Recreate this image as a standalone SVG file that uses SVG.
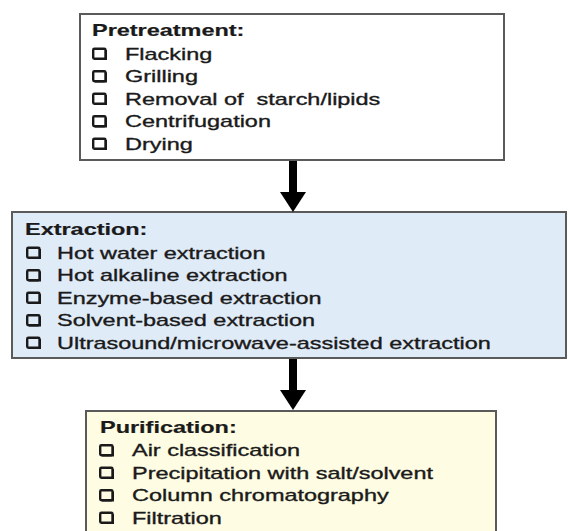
<svg xmlns="http://www.w3.org/2000/svg" xmlns:xlink="http://www.w3.org/1999/xlink" width="569" height="531" viewBox="0 0 569 531">
<style>
  .box { stroke: #5a5a5a; stroke-width: 2; }
  .t { font-family: "Liberation Sans", Arial, sans-serif; font-size: 17px; fill: #1a1a1a; stroke: #1a1a1a; stroke-width: 0.35; }
  .h { font-weight: bold; stroke-width: 0.2; }
  .cb { fill: none; stroke: #1a1a1a; stroke-width: 2.4; }
  .conn { stroke: #000; stroke-width: 8; }
</style>
<defs>
  <g id="chk">
    <rect class="cb" x="1.2" y="1.2" width="12.3" height="10" rx="1.2"/>
    <path d="M3 12 H14.4 V2.5" fill="none" stroke="#1a1a1a" stroke-width="1.2"/>
  </g>
  <marker id="ah" markerUnits="userSpaceOnUse" markerWidth="22" markerHeight="28" refX="0" refY="14" orient="auto" viewBox="0 0 22 28">
    <path d="M0 1 L20 14 L0 27 Z" fill="#000"/>
  </marker>
</defs>
<rect width="569" height="531" fill="#fff"/>

<g id="pretreatment">
  <rect class="box" x="80" y="14" width="424" height="146" fill="#ffffff"/>
  <text class="t h" transform="translate(92,36) scale(1.38,1)">Pretreatment:</text>
  <use href="#chk" x="92" y="47.5"/>
  <text class="t" transform="translate(125,59.5) scale(1.38,1)">Flacking</text>
  <use href="#chk" x="92" y="70"/>
  <text class="t" transform="translate(125,82) scale(1.38,1)">Grilling</text>
  <use href="#chk" x="92" y="92.5"/>
  <text class="t" xml:space="preserve" transform="translate(125,104.5) scale(1.38,1)">Removal of  starch/lipids</text>
  <use href="#chk" x="92" y="115"/>
  <text class="t" transform="translate(125,127) scale(1.38,1)">Centrifugation</text>
  <use href="#chk" x="92" y="137.5"/>
  <text class="t" transform="translate(125,149.5) scale(1.38,1)">Drying</text>
</g>

<g id="extraction">
  <rect class="box" x="12" y="212" width="554" height="146" fill="#e0ebf8"/>
  <text class="t h" transform="translate(25,235) scale(1.38,1)">Extraction:</text>
  <use href="#chk" x="26" y="246.5"/>
  <text class="t" transform="translate(57,258.5) scale(1.38,1)">Hot water extraction</text>
  <use href="#chk" x="26" y="269"/>
  <text class="t" transform="translate(57,281) scale(1.38,1)">Hot alkaline extraction</text>
  <use href="#chk" x="26" y="291.5"/>
  <text class="t" transform="translate(57,303.5) scale(1.38,1)">Enzyme-based extraction</text>
  <use href="#chk" x="26" y="314"/>
  <text class="t" transform="translate(57,326) scale(1.38,1)">Solvent-based extraction</text>
  <use href="#chk" x="26" y="336.5"/>
  <text class="t" transform="translate(57,348.5) scale(1.38,1)">Ultrasound/microwave-assisted extraction</text>
</g>

<g id="purification">
  <rect class="box" x="86" y="411" width="410" height="135" fill="#fefce2"/>
  <text class="t h" transform="translate(100,433) scale(1.38,1)">Purification:</text>
  <use href="#chk" x="99" y="444"/>
  <text class="t" transform="translate(132,456) scale(1.38,1)">Air classification</text>
  <use href="#chk" x="99" y="466.5"/>
  <text class="t" transform="translate(132,478.5) scale(1.38,1)">Precipitation with salt/solvent</text>
  <use href="#chk" x="99" y="489"/>
  <text class="t" transform="translate(132,501) scale(1.38,1)">Column chromatography</text>
  <use href="#chk" x="99" y="511.5"/>
  <text class="t" transform="translate(132,523.5) scale(1.38,1)">Filtration</text>
</g>

<g id="connectors">
  <line class="conn" x1="293" y1="161" x2="293" y2="192" marker-end="url(#ah)"/>
  <line class="conn" x1="293" y1="359" x2="293" y2="390" marker-end="url(#ah)"/>
</g>
</svg>
